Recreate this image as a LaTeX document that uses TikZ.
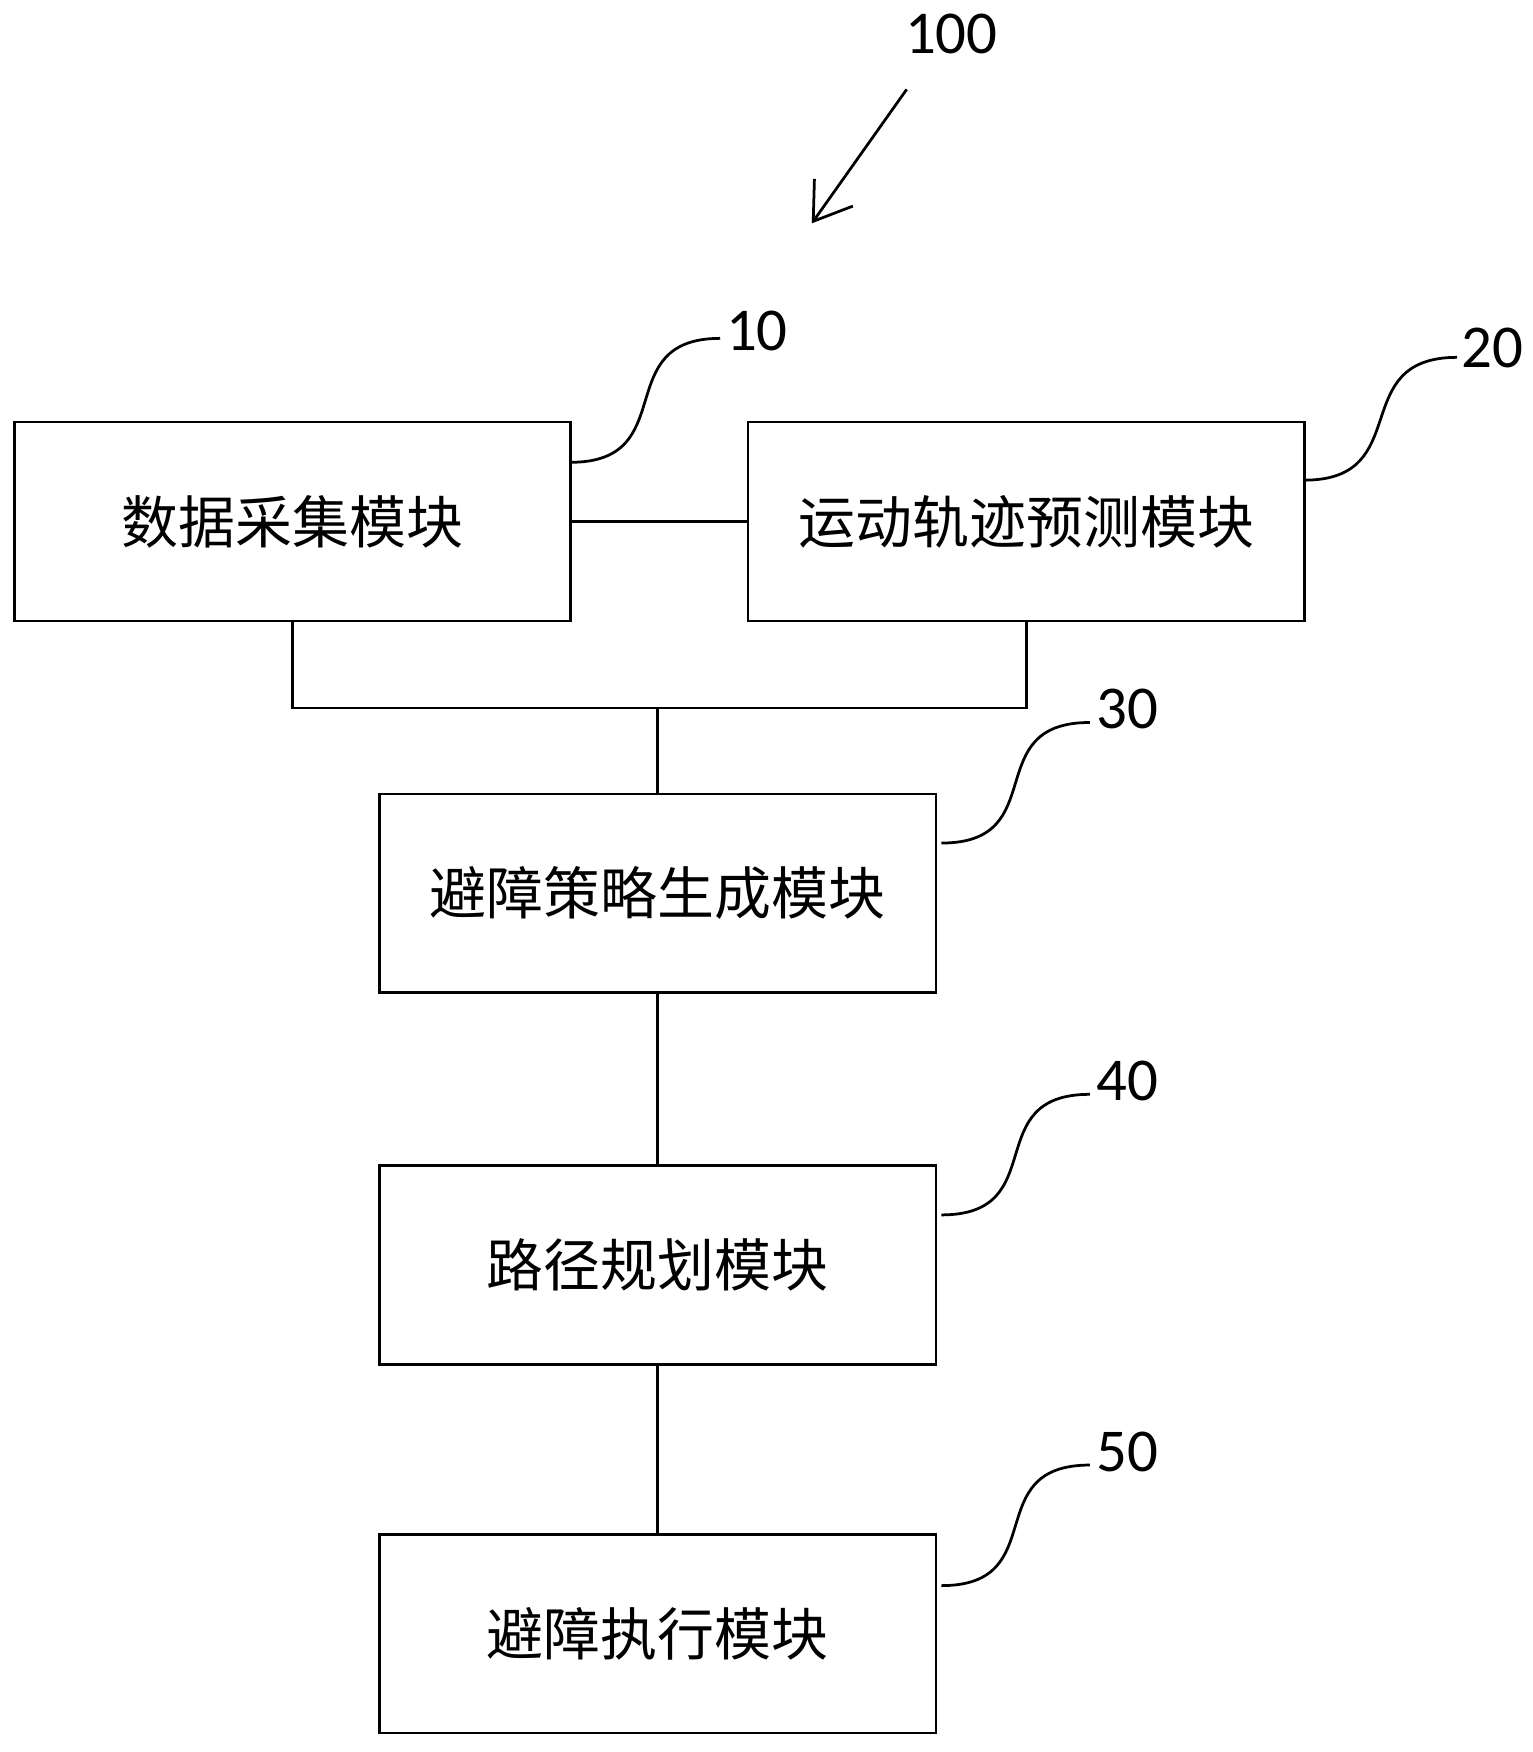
\documentclass[tikz,border=0pt]{standalone}
\usepackage{fontspec}
\setmainfont{Carlito}
\newfontfamily\cjk{Noto Sans CJK SC}
\usetikzlibrary{arrows.meta}
\begin{document}
\begin{tikzpicture}[x=0.01cm,y=-0.01cm,
  every path/.style={line width=0.7pt},
  modbox/.style={draw,line width=0.7pt,minimum width=4.98cm,minimum height=1.78cm,inner sep=0pt,font=\cjk\fontsize{14.5pt}{16pt}\selectfont},
  reflabel/.style={inner sep=0pt,font=\fontsize{15.5pt}{17pt}\selectfont},
  leader/.style={line width=0.7pt}]
\useasboundingbox (0,0) rectangle (1372,1569);
\node[modbox] (b1) at (262,467) {数据采集模块};
\node[modbox] (b2) at (919,467) {运动轨迹预测模块};
\node[modbox] (b3) at (589,800) {避障策略生成模块};
\node[modbox] (b4) at (589,1133) {路径规划模块};
\node[modbox] (b5) at (589,1463) {避障执行模块};
\coordinate (m) at (589,634);
\draw (b1) -- (b2);
\draw (b1.south) -- (b1.south |- m) -| (b2.south);
\draw (m) -- (b3.north);
\draw (b3) -- (b4);
\draw (b4) -- (b5);
% reference labels
\node[reflabel] (l100) at (852,30) {100};
\coordinate (a0) at (812,80);
\coordinate (a1) at (727,200);
\draw[-{Straight Barb[length=9pt,width=12pt]}] (a0) -- (a1);
\node[reflabel,anchor=west] (l10) at (649,296) {10};
\node[reflabel,anchor=west] (l20) at (1308,312) {20};
\node[reflabel,anchor=west] (l30) at (981,635) {30};
\node[reflabel,anchor=west] (l40) at (981,968) {40};
\node[reflabel,anchor=west] (l50) at (981,1300) {50};
\coordinate (s10) at (511,414);
\coordinate (e10) at (645,303);
\coordinate (s20) at (1168,430);
\coordinate (e20) at (1305,320);
\coordinate (s30) at (843,755);
\coordinate (e30) at (976,647);
\coordinate (s40) at (843,1088);
\coordinate (e40) at (976,980);
\coordinate (s50) at (843,1420);
\coordinate (e50) at (976,1312);
\foreach \n in {10,20,30,40,50}
  \draw[leader] (s\n) .. controls +(100,0) and +(-100,0) .. (e\n);
\end{tikzpicture}
\end{document}
